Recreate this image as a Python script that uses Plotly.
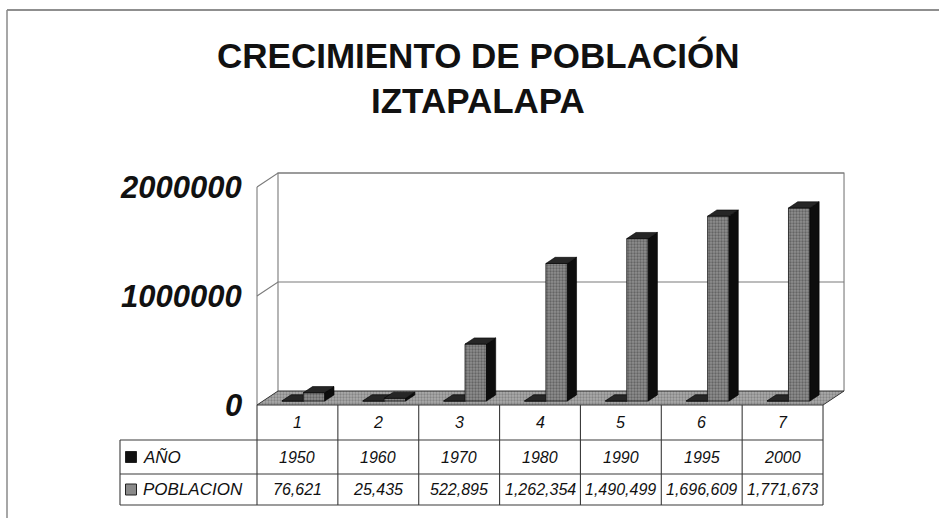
import plotly.graph_objects as go

# ---------------- data ----------------
CATEGORIES = ["1", "2", "3", "4", "5", "6", "7"]
ANO = [1950, 1960, 1970, 1980, 1990, 1995, 2000]
POBLACION = [76621, 25435, 522895, 1262354, 1490499, 1696609, 1771673]
SERIES_NAMES = ["AÑO", "POBLACION"]
Y_TICK_VALUES = [0, 1000000, 2000000]
Y_TICK_LABELS = ["0", "1000000", "2000000"]
TITLE_LINES = ["CRECIMIENTO DE POBLACIÓN", "IZTAPALAPA"]

# ---------------- geometry (pixels) ----------------
W, H = 939, 518
X0_PX, CAT_PX = 257.0, 80.86          # front-plane category origin / width
Y0_PX, PX_PER_UNIT = 405.0, 109.0 / 1e6
DEPTH_PX = (21.0, 14.0)               # oblique depth offset (right, up)
BAR_W = 0.265
D_NEAR, D_FAR = 0.28, 0.72
Y_MAX = max(Y_TICK_VALUES)
ROW_PX = [405, 440, 474, 505]
LABEL_LEFT_PX = 120


def xd(px):
    return (px - X0_PX) / CAT_PX


def yd(py):
    return (Y0_PX - py) / PX_PER_UNIT


DX = DEPTH_PX[0] / CAT_PX
DY = DEPTH_PX[1] / PX_PER_UNIT


def P(x, v, d):
    return (x + d * DX, v + d * DY)


def poly_trace(polys, fillcolor, pattern=None, line_color="#111", width=0.8):
    xs, ys = [], []
    for poly in polys:
        for (x, y) in poly:
            xs.append(x)
            ys.append(y)
        xs.append(poly[0][0])
        ys.append(poly[0][1])
        xs.append(None)
        ys.append(None)
    kw = dict(x=xs, y=ys, mode="lines", fill="toself", fillcolor=fillcolor,
              line=dict(color=line_color, width=width), hoverinfo="skip")
    if pattern:
        kw["fillpattern"] = pattern
    return go.Scatter(**kw)


def line_trace(segs, color="#777", width=1.0):
    xs, ys = [], []
    for seg in segs:
        for (x, y) in seg:
            xs.append(x)
            ys.append(y)
        xs.append(None)
        ys.append(None)
    return go.Scatter(x=xs, y=ys, mode="lines", line=dict(color=color, width=width),
                      hoverinfo="skip")


fig = go.Figure()
n = len(CATEGORIES)

# back wall and side wall lines
wall = [[P(0, 0, 1), P(0, Y_MAX, 1), P(n, Y_MAX, 1), P(n, 0, 1)],
        [P(0, 0, 0), P(0, Y_MAX, 0)]]
for v in Y_TICK_VALUES[1:]:
    wall.append([P(0, v, 0), P(0, v, 1), P(n, v, 1)])
fig.add_trace(line_trace(wall, color="#7a7a7a", width=1.1))

# floor
fig.add_trace(poly_trace([[P(0, 0, 0), P(n, 0, 0), P(n, 0, 1), P(0, 0, 1)]],
                         "#a0a0a0",
                         pattern=dict(shape=".", bgcolor="#ababab", fgcolor="#5e5e5e",
                                      size=3, solidity=0.45),
                         line_color="#333", width=1))

# bars
series = [ANO, POBLACION]
front_style = [dict(fill="#111111", pattern=None),
               dict(fill="#808080", pattern=dict(shape=".", bgcolor="#8e8e8e",
                                                 fgcolor="#3a3a3a", size=3, solidity=0.45))]
for s, vals in enumerate(series):
    fronts, sides, tops = [], [], []
    for i, v in enumerate(vals):
        xl = i + 0.5 - BAR_W + s * BAR_W
        xr = xl + BAR_W
        fronts.append([P(xl, 0, D_NEAR), P(xr, 0, D_NEAR), P(xr, v, D_NEAR), P(xl, v, D_NEAR)])
        sides.append([P(xr, 0, D_NEAR), P(xr, 0, D_FAR), P(xr, v, D_FAR), P(xr, v, D_NEAR)])
        tops.append([P(xl, v, D_NEAR), P(xr, v, D_NEAR), P(xr, v, D_FAR), P(xl, v, D_FAR)])
    fs = front_style[s]
    fig.add_trace(poly_trace(fronts, fs["fill"], pattern=fs["pattern"], line_color="#111", width=0.8))
    fig.add_trace(poly_trace(sides, "#0d0d0d", line_color="#000", width=0.6))
    fig.add_trace(poly_trace(tops, "#262626", line_color="#000", width=0.6))

# data table lines
x_left = xd(LABEL_LEFT_PX)
y_rows = [yd(p) for p in ROW_PX]
tsegs = []
for i in range(n + 1):
    tsegs.append([(i, y_rows[0]), (i, y_rows[-1])])
for yr in y_rows[1:]:
    tsegs.append([(x_left, yr), (n, yr)])
tsegs.append([(x_left, y_rows[1]), (x_left, y_rows[-1])])
fig.add_trace(line_trace(tsegs, color="#3a3a3a", width=1.1))

# legend keys
row_c = [(y_rows[k] + y_rows[k + 1]) / 2 for k in range(3)]
fig.add_trace(go.Scatter(x=[xd(131), xd(131)], y=[row_c[1], row_c[2]], mode="markers",
                         marker=dict(symbol="square", size=11, color=["#111", "#8a8a8a"],
                                     line=dict(color="#222", width=1)),
                         hoverinfo="skip"))

TABLE_FONT = dict(family="Liberation Sans, Arial, sans-serif", size=16, color="#111",
                  style="italic")
ann = []
for i, c in enumerate(CATEGORIES):
    ann.append(dict(x=i + 0.5, y=row_c[0], text=c, showarrow=False, font=TABLE_FONT))
    ann.append(dict(x=i + 0.5, y=row_c[1], text=str(ANO[i]), showarrow=False, font=TABLE_FONT))
    ann.append(dict(x=i + 0.5, y=row_c[2], text=f"{POBLACION[i]:,}", showarrow=False, font=TABLE_FONT))
for k, name in enumerate(SERIES_NAMES):
    ann.append(dict(x=xd(141), y=row_c[k + 1], text=name, showarrow=False, xanchor="left",
                    font=dict(TABLE_FONT, size=17)))

# y tick labels
for v, t in zip(Y_TICK_VALUES, Y_TICK_LABELS):
    ann.append(dict(x=0, y=v, text=t, showarrow=False, xanchor="right", yanchor="middle",
                    xshift=-13,
                    font=dict(family="Liberation Sans, Arial, sans-serif", size=31,
                              color="#111", weight="bold", style="italic")))

# title
TITLE_FONT = dict(family="Liberation Sans Narrow, Arial Narrow, Liberation Sans, Arial, sans-serif",
                  size=35, color="#111", weight="bold")
for text, ypx in zip(TITLE_LINES, [55, 100]):
    ann.append(dict(x=478 / W, y=1 - ypx / H, xref="paper", yref="paper", text=text,
                    showarrow=False, xanchor="center", yanchor="middle", font=TITLE_FONT))

fig.update_layout(
    width=W, height=H, autosize=False,
    margin=dict(l=0, r=0, t=0, b=0, pad=0),
    paper_bgcolor="white", plot_bgcolor="white",
    showlegend=False,
    xaxis=dict(range=[xd(0), xd(W)], visible=False, fixedrange=True),
    yaxis=dict(range=[yd(H), yd(0)], visible=False, fixedrange=True),
    annotations=ann,
    shapes=[
        dict(type="line", xref="paper", yref="paper", x0=7 / W, x1=1, y0=1 - 10 / H, y1=1 - 10 / H,
             line=dict(color="#6a6a6a", width=1.5)),
        dict(type="line", xref="paper", yref="paper", x0=7 / W, x1=7 / W, y0=1 - 10 / H, y1=0,
             line=dict(color="#8a8a8a", width=1.5)),
    ],
)

fig.write_html("out.html",
               config={"displayModeBar": False, "staticPlot": True},
               post_script="document.body.style.margin='0';document.body.style.overflow='hidden';")
